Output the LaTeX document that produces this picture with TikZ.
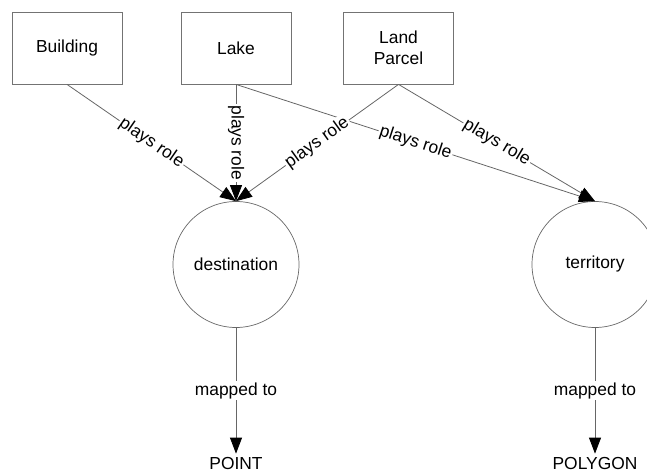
\documentclass[tikz,border=0pt]{standalone}
\usepackage{fontspec}
\setmainfont{Liberation Sans}
\usetikzlibrary{arrows.meta}
\begin{document}
\begin{tikzpicture}[x=1bp,y=-1bp,
  font=\fontsize{17.4bp}{21bp}\selectfont,
  entity/.style={draw=black!55, line width=0.8bp, minimum width=110bp, minimum height=72bp, align=center, inner sep=0pt},
  rolecircle/.style={draw=black!60, line width=0.7bp, circle, minimum size=126bp, inner sep=0pt},
  conn/.style={draw=black!60, line width=0.8bp, -{Triangle[length=16bp,width=12bp,fill=black,color=black]}},
  lbl/.style={midway, sloped, fill=white, inner sep=1.5bp},
  plain/.style={inner sep=3.5bp}]
\useasboundingbox (0,0) rectangle (647,473);
\node[entity] (building) at (67,48) {Building};
\node[entity] (lake) at (236,48) {Lake};
\node[entity] (parcel) at (398.5,48) {Land\\Parcel};
\node[rolecircle] (dest) at (236,264.5) {destination};
\node[rolecircle] (terr) at (595,264.5) {territory};
\node[plain] (point) at (236,463.5) {POINT};
\node[plain] (polygon) at (595,463.5) {POLYGON};
\draw[conn] (lake.south) -- (terr.north) node[lbl] {plays role};
\draw[conn] (parcel.south) -- (terr.north) node[lbl] {plays role};
\draw[conn] (building.south) -- (dest.north) node[lbl] {plays role};
\draw[conn] (lake.south) -- (dest.north) node[lbl] {plays role};
\draw[conn] (parcel.south) -- (dest.north) node[lbl] {plays role};
\draw[conn] (dest.south) -- (point.north) node[midway, fill=white, inner sep=1.5bp] {mapped to};
\draw[conn] (terr.south) -- (polygon.north) node[midway, fill=white, inner sep=1.5bp] {mapped to};
\end{tikzpicture}
\end{document}
